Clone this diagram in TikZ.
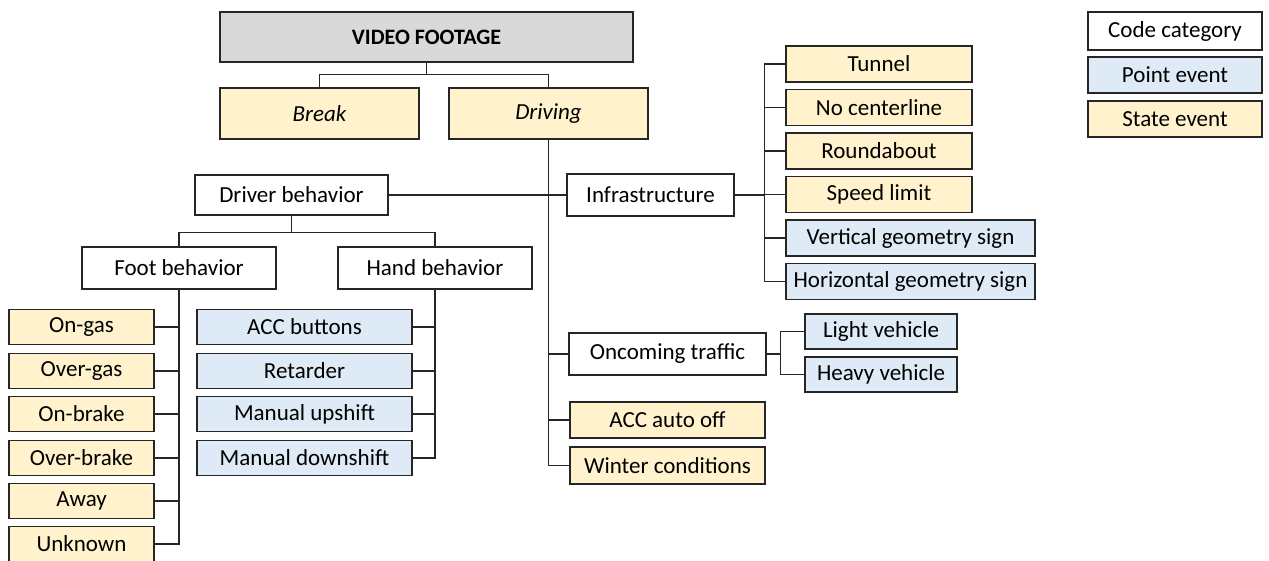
\documentclass[tikz,border=0pt]{standalone}
\usepackage{fontspec}
\setmainfont{Carlito}
\usetikzlibrary{calc}
\definecolor{stateC}{HTML}{FFF2CC}
\definecolor{pointC}{HTML}{DEEAF6}
\definecolor{headC}{HTML}{D9D9D9}
\definecolor{lineC}{HTML}{262626}
\begin{document}
\begin{tikzpicture}[x=1pt,y=-1pt,
  box/.style={draw=lineC,line width=1.5pt,inner sep=0pt,font=\fontsize{23}{27}\selectfont,text=black},
  cat/.style={box,fill=white},
  pev/.style={box,fill=pointC},
  sev/.style={box,fill=stateC},
  conn/.style={draw=lineC,line width=1.4pt}]
\useasboundingbox (0,0) rectangle (1269,560);
% top
\node[box,fill=headC,minimum width=413pt,minimum height=50pt,font=\fontsize{22}{26}\selectfont\bfseries] (vf) at (426.5,37) {VIDEO FOOTAGE};
\node[sev,minimum width=199pt,minimum height=51pt] (brk) at (319.5,113.5) {\itshape Break};
\node[sev,minimum width=199pt,minimum height=51pt] (drv) at (548.5,113.5) {\itshape Driving};
% level 2
\node[cat,minimum width=193pt,minimum height=40pt] (db) at (291.5,195) {Driver behavior};
\node[cat,minimum width=167pt,minimum height=42pt] (inf) at (650.5,195) {Infrastructure};
\node[cat,minimum width=194pt,minimum height=42pt] (fb) at (179,268) {Foot behavior};
\node[cat,minimum width=194pt,minimum height=42pt] (hb) at (435,268) {Hand behavior};
% foot children
\foreach \n/\t/\y in {og/On-gas/327,ovg/Over-gas/371,ob/On-brake/414,ovb/Over-brake/458,aw/Away/501,unk/Unknown/544}
  \node[sev,minimum width=145pt,minimum height=35pt] (\n) at (81.5,\y) {\t};
% hand children
\foreach \n/\t/\y in {accb/ACC buttons/327,ret/Retarder/371,mu/Manual upshift/414,md/Manual downshift/458}
  \node[pev,minimum width=215pt,minimum height=35pt] (\n) at (304.5,\y) {\t};
% infrastructure children
\foreach \n/\t/\y in {tun/Tunnel/64,noc/No centerline/107.5,rnd/Roundabout/151,spd/Speed limit/194.5}
  \node[sev,minimum width=186pt,minimum height=36pt] (\n) at (879,\y) {\t};
\node[pev,minimum width=249pt,minimum height=36pt] (vgs) at (910.5,238) {Vertical geometry sign};
\node[pev,minimum width=249pt,minimum height=36pt] (hgs) at (910.5,281.5) {Horizontal geometry sign};
% oncoming
\node[cat,minimum width=197pt,minimum height=42pt] (onc) at (667.5,354) {Oncoming traffic};
\node[pev,minimum width=152pt,minimum height=35pt] (lv) at (881,331.5) {Light vehicle};
\node[pev,minimum width=152pt,minimum height=35pt] (hv) at (881,374.5) {Heavy vehicle};
\node[sev,minimum width=195pt,minimum height=36pt] (acc) at (667.5,420) {ACC auto off};
\node[sev,minimum width=195pt,minimum height=37pt] (wc) at (667.5,465.5) {Winter conditions};
% legend
\node[cat,minimum width=174pt,minimum height=38pt] (lg1) at (1175,31) {Code category};
\node[pev,minimum width=174pt,minimum height=36pt] (lg2) at (1175,75) {Point event};
\node[sev,minimum width=174pt,minimum height=36pt] (lg3) at (1175,119) {State event};
% connectors
\draw[conn] (vf.south) -- ++(0,12) coordinate (vj) -| (brk.north);
\draw[conn] (vj) -| (drv.north);
\draw[conn] (drv.south) |- (wc.west);
\draw[conn] (db.east) -- (inf.west);
\draw[conn] (drv.south |- onc.west) -- (onc.west);
\draw[conn] (drv.south |- acc.west) -- (acc.west);
\draw[conn] (db.south) -- ++(0,17) coordinate (dj) -| (fb.north);
\draw[conn] (dj) -| (hb.north);
\draw[conn] (fb.south) |- (unk.east);
\foreach \n in {og,ovg,ob,ovb,aw}
  \draw[conn] (\n.east) -- (\n.east -| fb.south);
\draw[conn] (hb.south) |- (md.east);
\foreach \n in {accb,ret,mu}
  \draw[conn] (\n.east) -- (\n.east -| hb.south);
\draw[conn] (inf.east) -- ++(30,0) coordinate (ij);
\draw[conn] (tun.west) -- (tun.west -| ij) |- (hgs.west);
\foreach \n in {noc,rnd,spd,vgs}
  \draw[conn] (\n.west) -- (\n.west -| ij);
\draw[conn] (onc.east) -- ++(14,0) coordinate (oj);
\draw[conn] (lv.west) -- (lv.west -| oj) |- (hv.west);
\end{tikzpicture}
\end{document}
